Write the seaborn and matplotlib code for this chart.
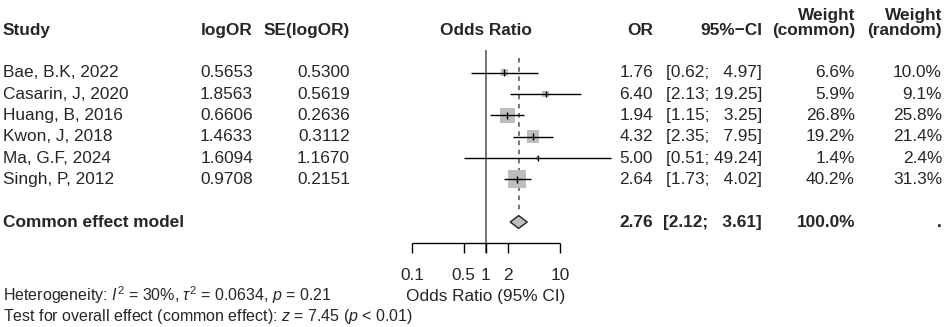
import numpy as np
import pandas as pd
import matplotlib
matplotlib.use("Agg")
import matplotlib.pyplot as plt
import matplotlib.transforms as mtrans
import seaborn as sns

# ---- data ----
studies = ["Bae, B.K, 2022", "Casarin, J, 2020", "Huang, B, 2016",
           "Kwon, J, 2018", "Ma, G.F, 2024", "Singh, P, 2012"]
log_or = [0.5653, 1.8563, 0.6606, 1.4633, 1.6094, 0.9708]
se_log_or = [0.5300, 0.5619, 0.2636, 0.3112, 1.1670, 0.2151]
odds = [1.76, 6.40, 1.94, 4.32, 5.00, 2.64]
ci_low = [0.62, 2.13, 1.15, 2.35, 0.51, 1.73]
ci_high = [4.97, 19.25, 3.25, 7.95, 49.24, 4.02]
w_common = [6.6, 5.9, 26.8, 19.2, 1.4, 40.2]
w_random = [10.0, 9.1, 25.8, 21.4, 2.4, 31.3]

pooled_label = "Common effect model"
pooled_or, pooled_low, pooled_high = 2.76, 2.12, 3.61
pooled_weight = 100.0
ticks = [0.1, 0.5, 1, 2, 10]
tick_labels = ["0.1", "0.5", "1", "2", "10"]

df = pd.DataFrame({"study": studies, "or": odds, "lo": ci_low, "hi": ci_high,
                   "wc": w_common, "wr": w_random, "logor": log_or, "se": se_log_or})
df["row"] = np.arange(1, len(df) + 1)
pooled_row = len(df) + 2

sns.set_theme(style="white")
plt.rcParams["font.family"] = ["Liberation Sans", "DejaVu Sans"]
plt.rcParams["mathtext.fontset"] = "custom"
plt.rcParams["mathtext.rm"] = "Liberation Sans"
plt.rcParams["mathtext.it"] = "Liberation Sans:italic"
plt.rcParams["mathtext.bf"] = "Liberation Sans:bold"

W, H = 944, 327
fig = plt.figure(figsize=(W / 100, H / 100), dpi=100)
ax = fig.add_axes([0, 0, 1, 1])
ax.set_axis_off()

# layout: pixel position of OR=1 and pixels per decade, row geometry
x_null, per_dec = 486, 74
y_first, row_h = 72.7, 21.33
ax.set_xscale("log")
ax.set_xlim(10 ** ((0 - x_null) / per_dec), 10 ** ((W - x_null) / per_dec))
ax.set_ylim(1 + (H - y_first) / row_h, 1 - y_first / row_h)

fs = 12.4
fs_foot = 11.5
tr = mtrans.blended_transform_factory(ax.transAxes, ax.transData)
def col(px):
    return px / W

# ---- forest part ----
ax.vlines(1, -0.05, 9.47, color="#505050", lw=1.1, zorder=1)
ax.vlines(pooled_or, 0.3, 7.6, color="#505050", lw=1.1, linestyles=(0, (3, 3)), zorder=1)
ax.hlines(df["row"], df["lo"], df["hi"], color="black", lw=1.0, zorder=3)
sns.scatterplot(data=df, x="or", y="row", size="wc", marker="s",
                sizes=(4.18 * min(w_common), 4.18 * max(w_common)),
                color="#bebebe", linewidth=0, legend=False, ax=ax, zorder=2)
ax.vlines(df["or"], df["row"] - 0.16, df["row"] + 0.16, color="black", lw=1.0, zorder=4)
hh = 0.3
ax.fill([pooled_low, pooled_or, pooled_high, pooled_or],
        [pooled_row, pooled_row - hh, pooled_row, pooled_row + hh],
        facecolor="#bebebe", edgecolor="#222222", lw=1.0, zorder=3)

# x axis
ax.hlines(9.0, ticks[0], ticks[-1], color="black", lw=1.0)
ax.vlines(ticks, 9.0, 9.47, color="black", lw=1.0)
for t, lab in zip(ticks, tick_labels):
    ax.text(t, 10.49, lab, ha="center", va="center", fontsize=fs)
ax.text(1, 11.5, "Odds Ratio (95% CI)", ha="center", va="center", fontsize=fs)

# ---- headers ----
hdr = -1.0
hdr2 = -1.7
ax.text(col(3), hdr, "Study", transform=tr, ha="left", va="center", fontsize=fs, weight="bold")
ax.text(col(253), hdr, "logOR", transform=tr, ha="right", va="center", fontsize=fs, weight="bold")
ax.text(col(350), hdr, "SE(logOR)", transform=tr, ha="right", va="center", fontsize=fs, weight="bold")
ax.text(1, hdr, "Odds Ratio", ha="center", va="center", fontsize=fs, weight="bold")
ax.text(col(653), hdr, "OR", transform=tr, ha="right", va="center", fontsize=fs, weight="bold")
ax.text(col(762), hdr, "95%\u2212CI", transform=tr, ha="right", va="center", fontsize=fs, weight="bold")
ax.text(col(855), hdr2, "Weight", transform=tr, ha="right", va="center", fontsize=fs, weight="bold")
ax.text(col(855), hdr, "(common)", transform=tr, ha="right", va="center", fontsize=fs, weight="bold")
ax.text(col(942), hdr2, "Weight", transform=tr, ha="right", va="center", fontsize=fs, weight="bold")
ax.text(col(942), hdr, "(random)", transform=tr, ha="right", va="center", fontsize=fs, weight="bold")

def ci_str(lo, hi):
    pad = "  " if hi < 10 else ""
    return f"[{lo:.2f}; {pad}{hi:.2f}]"

# ---- study rows ----
for _, r in df.iterrows():
    y = r["row"]
    ax.text(col(3), y, r["study"], transform=tr, ha="left", va="center", fontsize=fs)
    ax.text(col(253), y, f"{r['logor']:.4f}", transform=tr, ha="right", va="center", fontsize=fs)
    ax.text(col(350), y, f"{r['se']:.4f}", transform=tr, ha="right", va="center", fontsize=fs)
    ax.text(col(653), y, f"{r['or']:.2f}", transform=tr, ha="right", va="center", fontsize=fs)
    ax.text(col(762), y, ci_str(r["lo"], r["hi"]), transform=tr, ha="right", va="center", fontsize=fs)
    ax.text(col(855), y, f"{r['wc']:.1f}%", transform=tr, ha="right", va="center", fontsize=fs)
    ax.text(col(942), y, f"{r['wr']:.1f}%", transform=tr, ha="right", va="center", fontsize=fs)

# pooled row
y = pooled_row
ax.text(col(3), y, pooled_label, transform=tr, ha="left", va="center", fontsize=fs, weight="bold")
ax.text(col(653), y, f"{pooled_or:.2f}", transform=tr, ha="right", va="center", fontsize=fs, weight="bold")
ax.text(col(762), y, ci_str(pooled_low, pooled_high), transform=tr, ha="right", va="center",
        fontsize=fs, weight="bold")
ax.text(col(855), y, f"{pooled_weight:.1f}%", transform=tr, ha="right", va="center", fontsize=fs, weight="bold")
ax.text(col(942), y, ".", transform=tr, ha="right", va="center", fontsize=fs, weight="bold")

# ---- footnotes ----
ax.text(col(3), 11.42, r"Heterogeneity: $\mathit{I}^2$ = 30%, $\tau^2$ = 0.0634, $\mathit{p}$ = 0.21",
        transform=tr, ha="left", va="center", fontsize=fs_foot)
ax.text(col(3), 12.42, r"Test for overall effect (common effect): $\mathit{z}$ = 7.45 ($\mathit{p}$ < 0.01)",
        transform=tr, ha="left", va="center", fontsize=fs_foot)

fig.savefig("out.png", dpi=100)
